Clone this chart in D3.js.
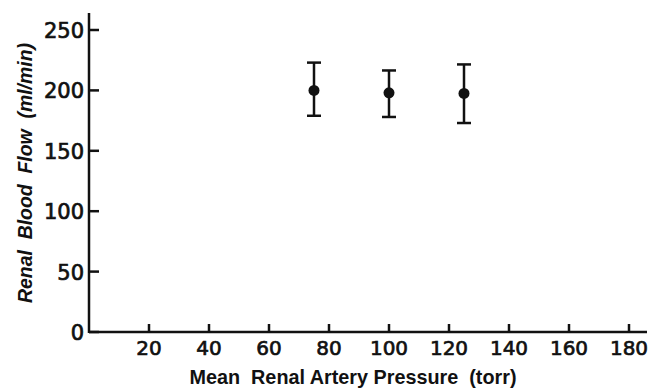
<!DOCTYPE html>
<html><head><meta charset="utf-8">
<script src="https://cdn.jsdelivr.net/npm/d3@7"></script>
<style>body{margin:0;background:#fff}svg{display:block}</style>
</head><body>
<svg id="c" width="652" height="388"></svg>
<script>
const pressure = [75, 100, 125];
const flowMean = [200, 198, 197.5];
const flowHigh = [223, 216.5, 221.5];
const flowLow = [179, 178, 173];
const xTicks = [20, 40, 60, 80, 100, 120, 140, 160, 180];
const yTicks = [0, 50, 100, 150, 200, 250];
const xTitle = "Mean  Renal Artery Pressure  (torr)";
const yTitle = "Renal  Blood  Flow  (ml/min)";

const svg = d3.select("#c");
const x = d3.scaleLinear().domain([0, 180]).range([89, 629]);
const y = d3.scaleLinear().domain([0, 250]).range([332, 30]);
const numFont = "'DejaVu Sans', sans-serif";
const font = "'Liberation Sans', Arial, sans-serif";
const ink = "#111";

// axes lines
svg.append("line").attr("x1", x(0)).attr("x2", x(186)).attr("y1", y(0)).attr("y2", y(0))
  .attr("stroke", ink).attr("stroke-width", 2.5);
svg.append("line").attr("x1", x(0)).attr("x2", x(0)).attr("y1", y(0) + 1).attr("y2", y(264))
  .attr("stroke", ink).attr("stroke-width", 2.5);

// y ticks
const yg = svg.append("g");
yg.selectAll("line").data(yTicks).join("line")
  .attr("x1", x(0)).attr("x2", x(0) + 10).attr("y1", d => y(d)).attr("y2", d => y(d))
  .attr("stroke", ink).attr("stroke-width", 2.5);
yg.selectAll("text").data(yTicks).join("text")
  .attr("x", x(0) - 5).attr("y", d => y(d) + 8)
  .attr("text-anchor", "end").attr("font-family", numFont).attr("font-size", 21)
  .attr("fill", ink).attr("stroke", ink).attr("stroke-width", 0.7).text(d => d);

// x ticks
const xg = svg.append("g");
xg.selectAll("line").data(xTicks).join("line")
  .attr("x1", d => x(d)).attr("x2", d => x(d)).attr("y1", y(0)).attr("y2", y(0) - 8)
  .attr("stroke", ink).attr("stroke-width", 2.5);
xg.selectAll("text").data(xTicks).join("text")
  .attr("x", d => x(d)).attr("y", 355)
  .attr("text-anchor", "middle").attr("font-family", numFont).attr("font-size", 20)
  .attr("fill", ink).attr("stroke", ink).attr("stroke-width", 0.7).text(d => d);

// titles
svg.append("text").attr("x", 353).attr("y", 384).attr("text-anchor", "middle")
  .attr("font-family", font).attr("font-size", 21).attr("font-weight", "bold").attr("fill", ink)
  .attr("textLength", 327).attr("lengthAdjust", "spacingAndGlyphs")
  .attr("xml:space", "preserve").text(xTitle);
svg.append("text").attr("transform", "translate(32,173) rotate(-90)").attr("text-anchor", "middle")
  .attr("font-family", font).attr("font-size", 20).attr("font-weight", "bold").attr("font-style", "italic")
  .attr("fill", ink).attr("textLength", 260).attr("lengthAdjust", "spacingAndGlyphs")
  .attr("xml:space", "preserve").text(yTitle);

// error bars
const data = pressure.map((p, i) => ({p, m: flowMean[i], hi: flowHigh[i], lo: flowLow[i]}));
const eg = svg.append("g");
eg.selectAll("line.v").data(data).join("line").attr("class", "v")
  .attr("x1", d => x(d.p)).attr("x2", d => x(d.p)).attr("y1", d => y(d.hi)).attr("y2", d => y(d.lo))
  .attr("stroke", ink).attr("stroke-width", 2.5);
eg.selectAll("line.t").data(data).join("line").attr("class", "t")
  .attr("x1", d => x(d.p) - 7).attr("x2", d => x(d.p) + 7).attr("y1", d => y(d.hi)).attr("y2", d => y(d.hi))
  .attr("stroke", ink).attr("stroke-width", 2.5);
eg.selectAll("line.b").data(data).join("line").attr("class", "b")
  .attr("x1", d => x(d.p) - 7).attr("x2", d => x(d.p) + 7).attr("y1", d => y(d.lo)).attr("y2", d => y(d.lo))
  .attr("stroke", ink).attr("stroke-width", 2.5);
eg.selectAll("circle").data(data).join("circle")
  .attr("cx", d => x(d.p)).attr("cy", d => y(d.m)).attr("r", 5.5).attr("fill", ink);
</script>
</body></html>
